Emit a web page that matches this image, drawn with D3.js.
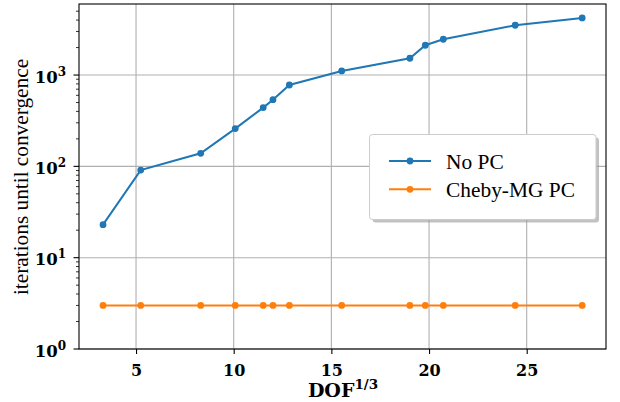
<!DOCTYPE html>
<html><head><meta charset="utf-8">
<script src="https://cdn.jsdelivr.net/npm/d3@7"></script>
<style>body{margin:0;background:#fff}svg{display:block}</style>
</head><body>
<script>
const dof = [3.31, 5.24, 8.31, 10.08, 11.51, 12.01, 12.85, 15.53, 19.02, 19.81, 20.73, 24.41, 27.84];
const noPC = [23, 91, 139, 259, 440, 537, 778, 1109, 1528, 2120, 2466, 3510, 4220];
const chebyPC = [3, 3, 3, 3, 3, 3, 3, 3, 3, 3, 3, 3, 3];
const seriesNames = ["No PC", "Cheby-MG PC"];
const xTicks = [5, 10, 15, 20, 25];
const yTicks = [0, 1, 2, 3];

const W = 620, H = 402;
const L = 79, R = 606, T = 4, B = 349;
const svg = d3.select("body").append("svg").attr("width", W).attr("height", H);
const serif = "'Liberation Serif','DejaVu Serif',serif";
const bold = "'DejaVu Serif','Liberation Serif',serif";

const x = d3.scaleLinear().domain([2.08, 29.06]).range([L, R]);
const y = d3.scaleLog().domain([1, Math.pow(10, 3.778)]).range([B, T]);

// grid
const g = svg.append("g");
g.selectAll(".vx").data(xTicks).enter().append("line")
  .attr("x1", d => x(d)).attr("x2", d => x(d)).attr("y1", T).attr("y2", B)
  .attr("stroke", "#b0b0b0").attr("stroke-width", 1.1);
g.selectAll(".hy").data(yTicks).enter().append("line")
  .attr("x1", L).attr("x2", R).attr("y1", d => y(Math.pow(10, d))).attr("y2", d => y(Math.pow(10, d)))
  .attr("stroke", "#b0b0b0").attr("stroke-width", 1.1);

// series
const colors = ["#1f77b4", "#ff7f0e"];
[noPC, chebyPC].forEach((vals, i) => {
  const pts = dof.map((d, j) => [d, vals[j]]);
  svg.append("path").datum(pts)
    .attr("d", d3.line().x(d => x(d[0])).y(d => y(d[1])))
    .attr("fill", "none").attr("stroke", colors[i]).attr("stroke-width", 2);
  svg.selectAll(".m" + i).data(pts).enter().append("circle")
    .attr("cx", d => x(d[0])).attr("cy", d => y(d[1])).attr("r", 3.4)
    .attr("fill", colors[i]);
});

// axes
const xAxis = d3.axisBottom(x).tickValues(xTicks).tickSize(5).tickPadding(0).tickFormat(d3.format("d"));
const xa = svg.append("g").attr("transform", `translate(0,${B})`).call(xAxis);
xa.select(".domain").remove();
xa.selectAll("text").attr("font-family", bold).attr("font-weight", "bold").attr("font-size", 16)
  .attr("fill", "#000").attr("dy", null).attr("y", 27);
xa.selectAll("line").attr("stroke", "#000").attr("stroke-width", 1.1);

const minor = [];
for (let e = 0; e < 4; e++) for (let k = 2; k <= 9; k++) { const v = k * Math.pow(10, e); if (v <= y.domain()[1]) minor.push(v); }
svg.selectAll(".mn").data(minor).enter().append("line")
  .attr("x1", L - 3).attr("x2", L).attr("y1", d => y(d)).attr("y2", d => y(d))
  .attr("stroke", "#000").attr("stroke-width", 0.8);
svg.selectAll(".mj").data(yTicks).enter().append("line")
  .attr("x1", L - 5.5).attr("x2", L).attr("y1", d => y(Math.pow(10, d))).attr("y2", d => y(Math.pow(10, d)))
  .attr("stroke", "#000").attr("stroke-width", 1.1);
const yl = svg.selectAll(".yl").data(yTicks).enter().append("text")
  .attr("x", 66).attr("y", d => y(Math.pow(10, d)) + 7.5)
  .attr("text-anchor", "end").attr("font-family", bold).attr("font-weight", "bold").attr("font-size", 16.5);
yl.append("tspan").text("10");
yl.append("tspan").attr("dy", -7).attr("font-size", 12).text(d => d);

// spines
svg.append("rect").attr("x", L).attr("y", T).attr("width", R - L).attr("height", B - T)
  .attr("fill", "none").attr("stroke", "#000").attr("stroke-width", 1.1);

// axis labels
const xl = svg.append("text").attr("x", 343).attr("y", 397).attr("text-anchor", "middle")
  .attr("font-family", bold).attr("font-weight", "bold").attr("font-size", 19);
xl.append("tspan").text("DOF");
xl.append("tspan").attr("dy", -8).attr("font-size", 13.5).text("1/3");

svg.append("text").attr("transform", "translate(28,177) rotate(-90)").attr("text-anchor", "middle")
  .attr("font-family", serif).attr("font-size", 21.3).text("iterations until convergence");

// legend
const lg = svg.append("g");
lg.append("rect").attr("x", 372.5).attr("y", 137.5).attr("width", 226.5).attr("height", 85).attr("rx", 3)
  .attr("fill", "#999").attr("opacity", 0.6);
lg.append("rect").attr("x", 369.5).attr("y", 134.5).attr("width", 226.5).attr("height", 85).attr("rx", 3)
  .attr("fill", "#fff").attr("stroke", "#cccccc").attr("stroke-width", 1);
seriesNames.forEach((n, i) => {
  const yy = 161 + i * 28.3;
  lg.append("line").attr("x1", 389).attr("x2", 431).attr("y1", yy).attr("y2", yy)
    .attr("stroke", colors[i]).attr("stroke-width", 2);
  lg.append("circle").attr("cx", 410).attr("cy", yy).attr("r", 3.4).attr("fill", colors[i]);
  lg.append("text").attr("x", 446).attr("y", yy + 7.8).attr("font-family", serif).attr("font-size", 21.4).text(n);
});
</script>
</body></html>
